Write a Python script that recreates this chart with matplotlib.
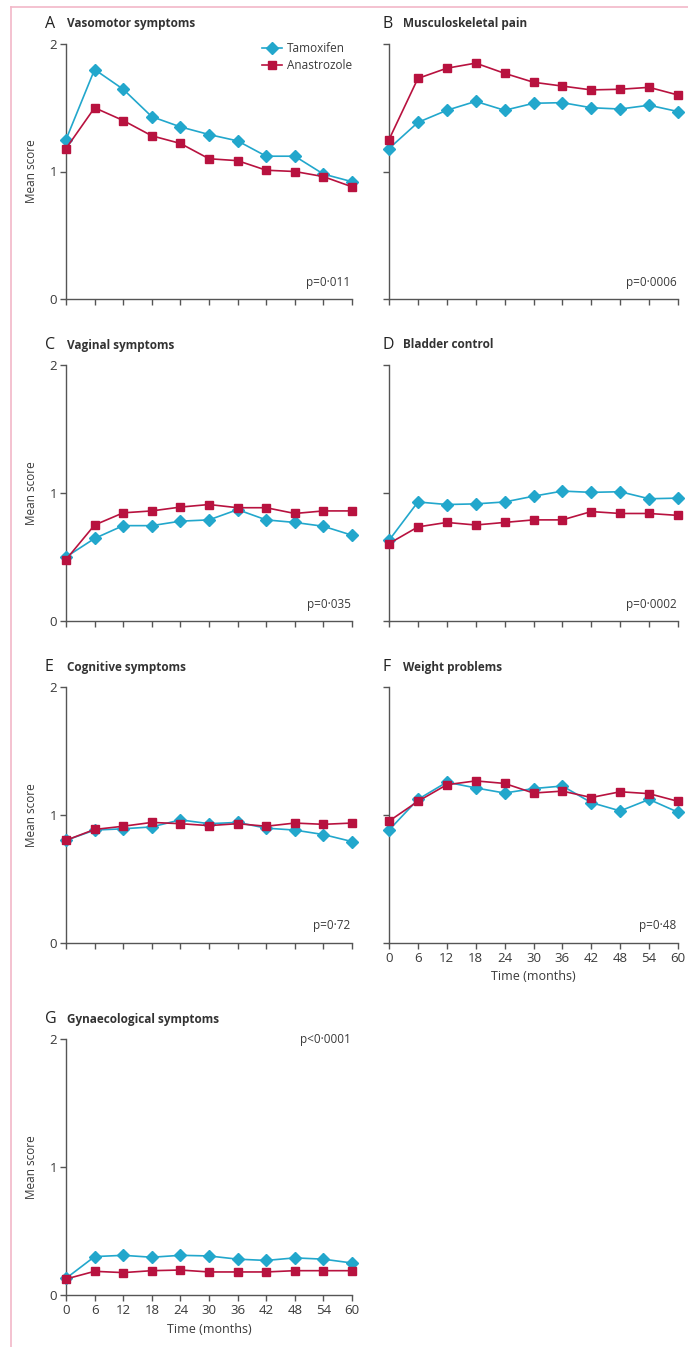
import matplotlib
matplotlib.use("Agg")
import matplotlib.pyplot as plt
from matplotlib.lines import Line2D

plt.rcParams['font.family'] = ['Open Sans', 'DejaVu Sans']

months = [0, 6, 12, 18, 24, 30, 36, 42, 48, 54, 60]
xtick_labels = ["0", "6", "12", "18", "24", "30", "36", "42", "48", "54", "60"]

panel_letters = ["A", "B", "C", "D", "E", "F", "G"]
panel_titles = ["Vasomotor symptoms", "Musculoskeletal pain", "Vaginal symptoms",
                "Bladder control", "Cognitive symptoms", "Weight problems",
                "Gynaecological symptoms"]
p_values = ["p=0·011", "p=0·0006", "p=0·035", "p=0·0002", "p=0·72", "p=0·48", "p<0·0001"]

tam_A = [1.25, 1.80, 1.645, 1.43, 1.35, 1.29, 1.24, 1.12, 1.12, 0.98, 0.92]
ana_A = [1.18, 1.50, 1.40, 1.28, 1.22, 1.10, 1.085, 1.01, 1.00, 0.96, 0.88]
tam_B = [1.18, 1.385, 1.48, 1.55, 1.48, 1.535, 1.54, 1.50, 1.49, 1.52, 1.47]
ana_B = [1.25, 1.73, 1.81, 1.85, 1.77, 1.70, 1.67, 1.64, 1.645, 1.66, 1.60]
tam_C = [0.50, 0.645, 0.745, 0.745, 0.78, 0.79, 0.87, 0.79, 0.77, 0.74, 0.67]
ana_C = [0.48, 0.75, 0.845, 0.86, 0.89, 0.91, 0.885, 0.885, 0.84, 0.86, 0.86]
tam_D = [0.63, 0.93, 0.91, 0.915, 0.93, 0.975, 1.015, 1.005, 1.01, 0.955, 0.96]
ana_D = [0.605, 0.735, 0.77, 0.75, 0.77, 0.79, 0.79, 0.855, 0.84, 0.84, 0.825]
tam_E = [0.80, 0.88, 0.89, 0.905, 0.96, 0.93, 0.94, 0.895, 0.88, 0.845, 0.79]
ana_E = [0.80, 0.885, 0.91, 0.94, 0.93, 0.915, 0.93, 0.91, 0.935, 0.925, 0.935]
tam_F = [0.88, 1.12, 1.255, 1.21, 1.17, 1.205, 1.225, 1.095, 1.03, 1.12, 1.02]
ana_F = [0.95, 1.105, 1.235, 1.265, 1.245, 1.17, 1.185, 1.135, 1.18, 1.165, 1.105]
tam_G = [0.13, 0.30, 0.31, 0.295, 0.31, 0.305, 0.28, 0.27, 0.29, 0.28, 0.25]
ana_G = [0.125, 0.185, 0.175, 0.19, 0.195, 0.18, 0.18, 0.18, 0.19, 0.19, 0.19]

tam_all = [tam_A, tam_B, tam_C, tam_D, tam_E, tam_F, tam_G]
ana_all = [ana_A, ana_B, ana_C, ana_D, ana_E, ana_F, ana_G]

series_names = ["Tamoxifen", "Anastrozole"]
TAM_COL = "#22a7cc"
ANA_COL = "#b8123f"
AX_COL = "#555555"
TXT_COL = "#3a3a3a"

W, H = 688, 1347
fig = plt.figure(figsize=(W / 100, H / 100), dpi=100)

# pink frame
fig.add_artist(Line2D([11 / W, 11 / W], [0, 1 - 7 / H], color="#f2b8c8", lw=1.2))
fig.add_artist(Line2D([11 / W, 1], [1 - 7 / H, 1 - 7 / H], color="#f2b8c8", lw=1.2))

col_x = [(66, 352), (389, 678)]
row_y = [(44, 299), (365, 621), (687, 942.5), (1039, 1295)]

for i in range(7):
    r, c = divmod(i, 2)
    x0, x1 = col_x[c]
    y0, y1 = row_y[r]
    ax = fig.add_axes([x0 / W, 1 - y1 / H, (x1 - x0) / W, (y1 - y0) / H])
    ax.plot(months, tam_all[i], color=TAM_COL, marker="D", ms=5.8, lw=1.2,
            clip_on=False, zorder=3, label=series_names[0])
    ax.plot(months, ana_all[i], color=ANA_COL, marker="s", ms=6.2, lw=1.2,
            clip_on=False, zorder=4, label=series_names[1])
    ax.set_xlim(0, 60)
    ax.set_ylim(0, 2)
    for s in ["top", "right"]:
        ax.spines[s].set_visible(False)
    for s in ["left", "bottom"]:
        ax.spines[s].set_color(AX_COL)
        ax.spines[s].set_linewidth(1.0)
    ax.set_xticks(months)
    ax.set_yticks([0, 1, 2])
    ax.tick_params(axis="both", direction="out", length=4.5, width=1.0,
                   color=AX_COL, labelcolor=TXT_COL, labelsize=9.5, pad=2)
    ax.set_yticklabels(["0", "1", "2"])
    if i in (5, 6):
        ax.set_xticklabels(xtick_labels)
        ax.set_xlabel("Time (months)", fontsize=9, color=TXT_COL, labelpad=4)
    else:
        ax.set_xticklabels([])
    if c == 0:
        ax.set_ylabel("Mean score", fontsize=8.5, color=TXT_COL, labelpad=8)
    else:
        ax.set_yticklabels([])
    # titles
    lx = 45 if c == 0 else 382
    tx = 67 if c == 0 else 403
    ty = y0 - 20
    fig.text(lx / W, 1 - ty / H, panel_letters[i], fontsize=11.5, color="#222222",
             va="center", ha="left")
    fig.text(tx / W, 1 - ty / H, panel_titles[i], fontsize=8.5, fontweight="bold",
             color="#333333", va="center", ha="left")
    # p-values
    if i == 6:
        ax.text(0.995, 1.0, p_values[i], transform=ax.transAxes, ha="right",
                va="center", fontsize=8.5, color=TXT_COL)
    else:
        ax.text(0.995, 0.065, p_values[i], transform=ax.transAxes, ha="right",
                va="center", fontsize=8.5, color=TXT_COL)
    if i == 0:
        ax.legend(loc="upper left", bbox_to_anchor=(0.66, 1.035), frameon=False,
                  fontsize=8.5, handlelength=1.7, handletextpad=0.4,
                  labelspacing=0.35, borderpad=0.1, labelcolor=TXT_COL)

fig.savefig("out.png", dpi=100)
